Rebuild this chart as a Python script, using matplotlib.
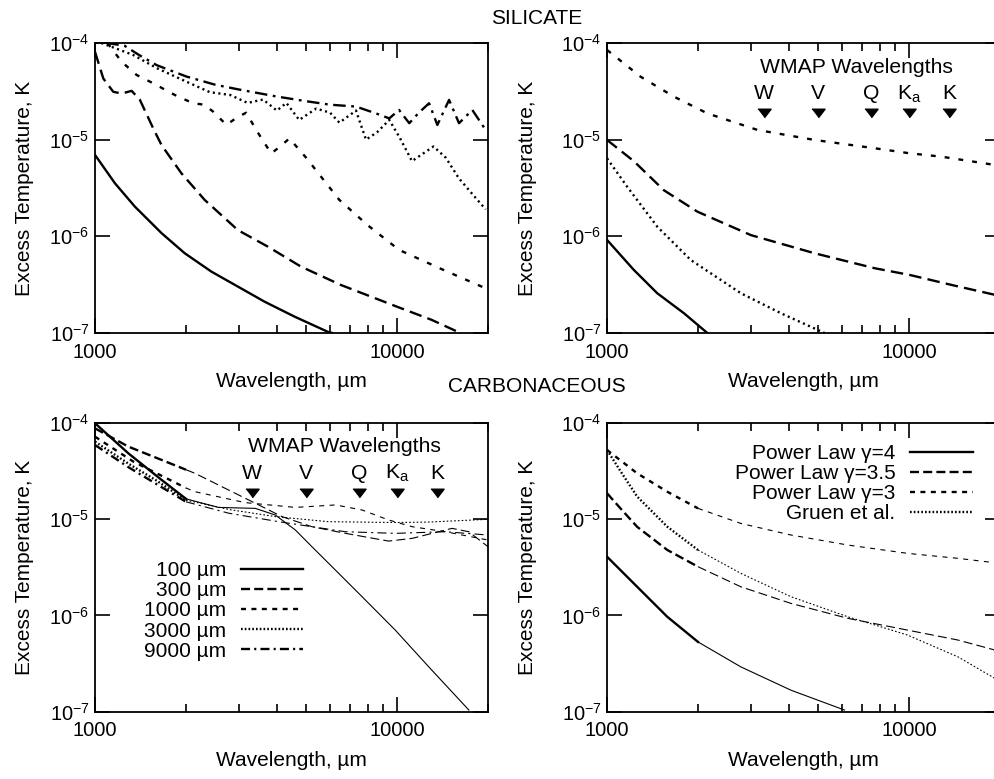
import numpy as np
import matplotlib
matplotlib.use("Agg")
import matplotlib.pyplot as plt
from matplotlib.ticker import LogLocator, NullLocator, NullFormatter

plt.rcParams["font.family"] = ["Liberation Sans", "DejaVu Sans"]
plt.rcParams["mathtext.default"] = "regular"
plt.rcParams["lines.scale_dashes"] = False
plt.rcParams["font.size"] = 15

# ---------------- Data (wavelength in um, excess temperature in K) ----------------

# silicate, by particle size (top left)
sil_100_lam = [1000, 1164, 1355, 1660, 1982, 2427, 2972, 3641, 4572, 5892, 6100]
sil_100_T = [6.95e-6, 3.54e-6, 2.03e-6, 1.08e-6, 6.68e-7, 4.32e-7, 3.02e-7, 2.11e-7,
             1.48e-7, 1.03e-7, 1.0e-7]

sil_300_lam = [1000, 1065, 1149, 1225, 1322, 1408, 1558, 1660, 1932, 2307, 2972, 3733,
               4808, 6516, 10000, 13000, 16200]
sil_300_T = [8.1e-5, 4.3e-5, 3.13e-5, 3.0e-5, 3.2e-5, 2.58e-5, 1.31e-5, 8.8e-6, 4.49e-6,
             2.38e-6, 1.16e-6, 7.83e-7, 4.86e-7, 3.14e-7, 1.87e-7, 1.37e-7, 1.0e-7]

sil_1000_lam = [1100, 1225, 1373, 1558, 1837, 2111, 2300, 2460, 2724, 2950, 3165, 3450,
                3830, 4100, 4400, 5000, 6440, 8000, 10150, 14000, 19640]
sil_1000_T = [1.0e-4, 6.4e-5, 4.67e-5, 3.83e-5, 2.9e-5, 2.38e-5, 2.3e-5, 1.95e-5, 1.42e-5,
              1.7e-5, 1.9e-5, 1.2e-5, 7.2e-6, 8.5e-6, 1.03e-5, 6.5e-6, 2.38e-6, 1.3e-6,
              7.24e-7, 4.6e-7, 2.9e-7]

sil_3000_lam = [1050, 1340, 1600, 2000, 2400, 2800, 3200, 3600, 4000, 4300, 4740, 5400,
                6000, 6440, 7310, 7600, 7890, 8600, 9420, 10200, 11200, 12200, 13200,
                14500, 16000, 18000, 19640]
sil_3000_T = [1.0e-4, 7.5e-5, 5.5e-5, 4.0e-5, 3.1e-5, 2.9e-5, 2.4e-5, 2.6e-5, 2.0e-5,
              2.4e-5, 1.6e-5, 2.1e-5, 1.9e-5, 1.5e-5, 2.0e-5, 1.4e-5, 1.0e-5, 1.2e-5,
              1.6e-5, 1.05e-5, 6.0e-6, 7.2e-6, 8.5e-6, 6.5e-6, 4.0e-6, 2.6e-6, 1.9e-6]

sil_9000_lam = [1090, 1250, 1400, 1600, 2007, 2500, 3000, 3980, 5000, 6000, 7310, 8510,
                9420, 10150, 10970, 11800, 12760, 13590, 14860, 16030, 17740, 19640]
sil_9000_T = [1.0e-4, 9.4e-5, 7.5e-5, 5.9e-5, 4.5e-5, 3.7e-5, 3.3e-5, 2.8e-5, 2.5e-5,
              2.3e-5, 2.2e-5, 1.87e-5, 1.66e-5, 2.03e-5, 1.48e-5, 1.9e-5, 2.38e-5,
              1.42e-5, 2.58e-5, 1.48e-5, 2.03e-5, 1.26e-5]

# silicate, power laws (top right)
sil_g4_lam = [1000, 1226, 1466, 1798, 2148]
sil_g4_T = [9.18e-7, 4.5e-7, 2.58e-7, 1.6e-7, 1.0e-7]

sil_g35_lam = [1000, 1226, 1542, 1991, 2993, 4867, 7690, 10040, 13840, 19270]
sil_g35_T = [9.93e-6, 6.0e-6, 3.0e-6, 1.8e-6, 1.03e-6, 6.68e-7, 4.68e-7, 3.99e-7,
             3.14e-7, 2.48e-7]

sil_g3_lam = [1000, 1290, 1664, 2148, 3150, 4867, 7690, 10040, 12800, 19270]
sil_g3_T = [8.47e-5, 4.49e-5, 2.79e-5, 1.87e-5, 1.26e-5, 9.93e-6, 8.15e-6, 7.23e-6,
            6.67e-6, 5.47e-6]

sil_gruen_lam = [1000, 1165, 1466, 1892, 2773, 3767, 5248]
sil_gruen_T = [6.41e-6, 3.27e-6, 1.26e-6, 5.7e-7, 2.58e-7, 1.6e-7, 1.0e-7]

# carbonaceous, by particle size (bottom left)
car_100_lam = [1000, 1290, 1663, 2000, 2563, 3390, 3953, 4605, 5227, 6250, 7660, 9860,
               12730, 17280]
car_100_T = [9.86e-5, 4.8e-5, 2.54e-5, 1.62e-5, 1.32e-5, 1.29e-5, 1.1e-5, 7.69e-6,
             5.15e-6, 2.95e-6, 1.56e-6, 7.03e-7, 2.92e-7, 1.04e-7]

car_300_lam = [1000, 1290, 1663, 2000, 2143, 2768, 3390, 4156, 5227, 6745, 9375, 11220,
               15200, 17280, 20000]
car_300_T = [8.73e-5, 5.64e-5, 4.1e-5, 3.25e-5, 2.98e-5, 2.0e-5, 1.46e-5, 1.06e-5,
             8.32e-6, 7.1e-6, 5.9e-6, 6.3e-6, 8.0e-6, 7.38e-6, 5.15e-6]

car_1000_lam = [1000, 1340, 2000, 2143, 3142, 4605, 6250, 7660, 9375, 11220, 14450, 20000]
car_1000_T = [7.16e-5, 3.94e-5, 2.1e-5, 1.92e-5, 1.48e-5, 1.32e-5, 1.4e-5, 1.24e-5,
              9.77e-6, 8.32e-6, 7.38e-6, 6.05e-6]

car_3000_lam = [1000, 1300, 1600, 2000, 2800, 3953, 5930, 9860, 12730, 20000]
car_3000_T = [6.35e-5, 3.7e-5, 2.5e-5, 1.57e-5, 1.25e-5, 1.06e-5, 9.38e-6, 9.2e-6,
              9.3e-6, 9.93e-6]

car_9000_lam = [1000, 1300, 1600, 2000, 2768, 4055, 6745, 9860, 14450, 20000]
car_9000_T = [5.86e-5, 3.4e-5, 2.3e-5, 1.51e-5, 1.15e-5, 9.38e-6, 7.38e-6, 7.1e-6,
              7.38e-6, 6.82e-6]

# carbonaceous, power laws (bottom right)
car_g4_lam = [1000, 1258, 1583, 2000, 2772, 4066, 6110]
car_g4_T = [4.06e-6, 1.98e-6, 9.66e-7, 5.3e-7, 2.92e-7, 1.67e-7, 1.04e-7]

car_g35_lam = [1000, 1120, 1258, 1583, 2000, 2772, 4066, 6270, 9880, 14480, 19200]
car_g35_T = [1.85e-5, 1.24e-5, 8.3e-6, 4.77e-6, 3.2e-6, 1.98e-6, 1.33e-6, 9.31e-7,
             7.03e-7, 5.55e-7, 4.37e-7]

car_g3_lam = [1000, 1258, 1583, 2000, 2772, 4066, 6270, 9880, 14480, 19200]
car_g3_T = [5.21e-5, 2.98e-5, 1.92e-5, 1.29e-5, 9.0e-6, 6.82e-6, 5.37e-6, 4.4e-6,
            3.91e-6, 3.52e-6]

car_gruen_lam = [1000, 1120, 1258, 1583, 2000, 2772, 4066, 6270, 8050, 9880, 14480, 19200]
car_gruen_T = [5.2e-5, 2.98e-5, 1.71e-5, 8.32e-6, 4.77e-6, 2.73e-6, 1.56e-6, 9.66e-7,
               7.62e-7, 6.24e-7, 3.72e-7, 2.22e-7]

size_labels = ["100 \u00b5m", "300 \u00b5m", "1000 \u00b5m", "3000 \u00b5m", "9000 \u00b5m"]
law_labels = ["Power Law \u03b3=4", "Power Law \u03b3=3.5", "Power Law \u03b3=3", "Gruen et al."]

wmap_bands = ["W", "V", "Q", "K$_{a}$", "K"]
wmap_lam = [3300, 5000, 7500, 10000, 13600]

x_ticks = [1000, 10000]
x_ticklabels = ["1000", "10000"]
y_ticks = [1e-7, 1e-6, 1e-5, 1e-4]
y_ticklabels = ["$10^{-7}$", "$10^{-6}$", "$10^{-5}$", "$10^{-4}$"]

# ---------------- Styles ----------------

# top panels (heavier gnuplot-like dashes)
top_styles = ["-", (0, (9, 4.5)), (0, (3.5, 6.5)), (0, (1.5, 2.5)), (0, (9, 4, 2, 4))]
# bottom panels
bot_styles = ["-", (0, (6.5, 3)), (0, (3.6, 3.9)), (0, (1.2, 1.5)), (0, (6.5, 3, 1.5, 3))]
THICK = 1.7
THIN = 0.8
FS = 15

# ---------------- Figure ----------------

fig = plt.figure(figsize=(9.95, 7.79), dpi=100)
ax_tl = fig.add_axes([0.0955, 0.5725, 0.395, 0.3723])
ax_tr = fig.add_axes([0.6101, 0.5725, 0.395, 0.3723])
ax_bl = fig.add_axes([0.0955, 0.0864, 0.395, 0.371])
ax_br = fig.add_axes([0.6101, 0.0864, 0.395, 0.371])


def setup(ax, ylab_x):
    ax.set_xscale("log")
    ax.set_yscale("log")
    ax.set_xlim(1000, 20000)
    ax.set_ylim(1e-7, 1e-4)
    ax.set_xticks(x_ticks)
    ax.set_xticklabels(x_ticklabels)
    ax.xaxis.set_minor_locator(LogLocator(base=10, subs=np.arange(2, 10)))
    ax.xaxis.set_minor_formatter(NullFormatter())
    ax.set_yticks(y_ticks)
    ax.set_yticklabels(y_ticklabels)
    ax.yaxis.set_minor_locator(NullLocator())
    ax.tick_params(which="both", direction="in", top=True, right=True, width=1.2,
                   labelsize=14.5)
    ax.tick_params(which="major", length=10.5)
    ax.tick_params(axis="x", which="major", pad=7)
    ax.tick_params(axis="y", which="major", pad=4)
    ax.tick_params(which="minor", length=5.5)
    for s in ax.spines.values():
        s.set_linewidth(1.3)
    ax.set_xlabel("Wavelength, \u00b5m", fontsize=FS)
    ax.set_ylabel("Excess Temperature, K", fontsize=FS)
    ax.xaxis.set_label_coords(0.5, -0.135)
    ax.yaxis.set_label_coords(ylab_x, 0.5)


def split_plot(ax, lam, T, ls, label=None):
    # thick below 2000 um, thin above
    lam = np.asarray(lam)
    T = np.asarray(T)
    a = lam <= 2000
    b = lam >= 2000
    h, = ax.plot(lam[a], T[a], color="black", lw=THICK, ls=ls, label=label,
                 dash_capstyle="butt")
    ax.plot(lam[b], T[b], color="black", lw=THIN, ls=ls, dash_capstyle="butt")
    return h


def wmap(ax):
    ax.plot(wmap_lam, [1.87e-5] * len(wmap_lam), ls="none", color="black",
            marker=[(-1, 0.65), (1, 0.65), (0, -0.65)], markersize=9.5)
    for lab, lam in zip(wmap_bands, wmap_lam):
        ax.text(lam, 2.62e-5, lab, ha="center", va="baseline", fontsize=15.2)
    ax.text(6700, 4.93e-5, "WMAP Wavelengths", ha="center", va="baseline", fontsize=15.2)


# top left: silicate sizes
sil_sizes = [(sil_100_lam, sil_100_T), (sil_300_lam, sil_300_T), (sil_1000_lam, sil_1000_T),
             (sil_3000_lam, sil_3000_T), (sil_9000_lam, sil_9000_T)]
for (lam, T), ls in zip(sil_sizes, top_styles):
    ax_tl.plot(lam, T, color="black", lw=THICK, ls=ls, dash_capstyle="butt")
setup(ax_tl, -0.155)

# top right: silicate power laws
sil_laws = [(sil_g4_lam, sil_g4_T), (sil_g35_lam, sil_g35_T), (sil_g3_lam, sil_g3_T),
            (sil_gruen_lam, sil_gruen_T)]
for (lam, T), ls in zip(sil_laws, top_styles[:4]):
    ax_tr.plot(lam, T, color="black", lw=THICK, ls=ls, dash_capstyle="butt")
setup(ax_tr, -0.178)
wmap(ax_tr)

# bottom left: carbonaceous sizes
car_sizes = [(car_100_lam, car_100_T), (car_300_lam, car_300_T), (car_1000_lam, car_1000_T),
             (car_3000_lam, car_3000_T), (car_9000_lam, car_9000_T)]
handles = []
for (lam, T), ls, lab in zip(car_sizes, bot_styles, size_labels):
    handles.append(split_plot(ax_bl, lam, T, ls, lab))
setup(ax_bl, -0.155)
wmap(ax_bl)
ax_bl.legend(handles=handles, loc="upper right", bbox_to_anchor=(0.53, 0.52),
             markerfirst=False, frameon=False, fontsize=FS, handlelength=3.0,
             handletextpad=0.7, labelspacing=0.05, borderpad=0, borderaxespad=0)

# bottom right: carbonaceous power laws
car_laws = [(car_g4_lam, car_g4_T), (car_g35_lam, car_g35_T), (car_g3_lam, car_g3_T),
            (car_gruen_lam, car_gruen_T)]
handles = []
for (lam, T), ls, lab in zip(car_laws, bot_styles[:4], law_labels):
    handles.append(split_plot(ax_br, lam, T, ls, lab))
setup(ax_br, -0.178)
ax_br.legend(handles=handles, loc="upper right", bbox_to_anchor=(0.93, 0.925),
             markerfirst=False, frameon=False, fontsize=FS, handlelength=3.0,
             handletextpad=0.7, labelspacing=0.05, borderpad=0, borderaxespad=0)

fig.text(0.5395, 1 - 18.5 / 779, "SILICATE", ha="center", va="center", fontsize=FS)
fig.text(0.5395, 1 - 387 / 779, "CARBONACEOUS", ha="center", va="center", fontsize=FS)

fig.savefig("out.png", dpi=100)
